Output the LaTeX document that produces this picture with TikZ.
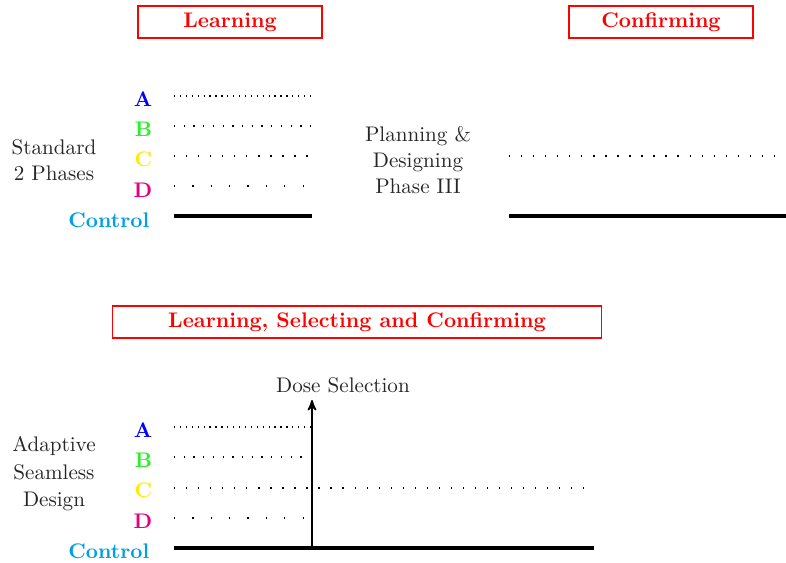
\documentclass[tikz,border=0pt]{standalone}
\usetikzlibrary{arrows, positioning}
\definecolor{armA}{RGB}{0,0,255}
\definecolor{armB}{RGB}{40,240,40}
\definecolor{armC}{RGB}{255,235,0}
\definecolor{armD}{RGB}{230,0,126}
\definecolor{ctrl}{RGB}{0,160,227}
\begin{document}
\begin{tikzpicture}[x=0.01665cm, y=-0.01665cm, >=stealth', semithick]
        \tikzstyle{phase}=[draw=red, thick, text=red, font=\bfseries, minimum width=184*0.01665cm, minimum height=32*0.01665cm, inner sep=0pt]
        \tikzstyle{arm}=[font=\bfseries, anchor=east, inner sep=1pt]
        \tikzstyle{side}=[align=center, text=black!85]
        \tikzstyle{dA}=[dash pattern=on 0.6pt off 2.2pt, line width=0.9pt]
        \tikzstyle{dB}=[dash pattern=on 0.6pt off 4pt, line width=0.9pt]
        \tikzstyle{dC}=[dash pattern=on 0.6pt off 5.1pt, line width=0.9pt]
        \tikzstyle{dD}=[dash pattern=on 0.6pt off 8.1pt, line width=0.9pt]
        \tikzstyle{ctrlline}=[line width=1.5pt]

        \useasboundingbox (0,0) rectangle (786,563);

        % top: standard two phases
        \node[phase]    (learn)   at (230,22) {Learning};
        \node[phase]    (confirm) at (661,22) {Confirming};
        \node[side]     (std)     at (54,160) {Standard\\[0.5pt]2 Phases};
        \node[side]     (plan)    at (418,160) {Planning \&\\[0.5pt]Designing\\[0.5pt]Phase III};

        \node[arm, text=armA]  (A1) at (155,99)  {A};
        \node[arm, text=armB]  (B1) at (155,129) {B};
        \node[arm, text=armC]  (C1) at (155,159) {C};
        \node[arm, text=armD]  (D1) at (155,190) {D};
        \node[arm, text=ctrl]  (K1) at (152,220) {Control};

        \coordinate (a1s) at (174,96);  \coordinate (a1e) at (311,96);
        \coordinate (b1s) at (174,126); \coordinate (b1e) at (314,126);
        \coordinate (c1s) at (174,156); \coordinate (c1e) at (311,156);
        \coordinate (d1s) at (174,186); \coordinate (d1e) at (306,186);
        \coordinate (k1s) at (174,216); \coordinate (k1e) at (312,216);
        \coordinate (c3s) at (509,156); \coordinate (c3e) at (781,156);
        \coordinate (k3s) at (509,216); \coordinate (k3e) at (786,216);

        \draw[dA] (a1s) -- (a1e);
        \draw[dB] (b1s) -- (b1e);
        \draw[dC] (c1s) -- (c1e);
        \draw[dD] (d1s) -- (d1e);
        \draw[ctrlline] (k1s) -- (k1e);
        \draw[dC] (c3s) -- (c3e);
        \draw[ctrlline] (k3s) -- (k3e);

        % bottom: adaptive seamless design
        \node[phase, minimum width=489*0.01665cm] (seam) at (357,322) {Learning, Selecting and Confirming};
        \node[side]     (asd)     at (54,474) {Adaptive\\[1pt]Seamless\\[1pt]Design};

        \node[arm, text=armA]  (A2) at (155,430) {A};
        \node[arm, text=armB]  (B2) at (155,460) {B};
        \node[arm, text=armC]  (C2) at (155,490) {C};
        \node[arm, text=armD]  (D2) at (155,521) {D};
        \node[arm, text=ctrl]  (K2) at (152,551) {Control};

        \coordinate (a2s) at (174,427); \coordinate (a2e) at (312,427);
        \coordinate (b2s) at (174,457); \coordinate (b2e) at (306,457);
        \coordinate (c2s) at (174,488); \coordinate (c2e) at (592,488);
        \coordinate (d2s) at (174,518); \coordinate (d2e) at (306,518);
        \coordinate (k2s) at (174,548); \coordinate (k2e) at (594,548);
        \coordinate (sel)  at (312,548);
        \coordinate (selt) at (312,400);
        \node[text=black!85, inner sep=1pt] (dose) at (343,385) {Dose Selection};

        \draw[dA] (a2s) -- (a2e);
        \draw[dB] (b2s) -- (b2e);
        \draw[dC] (c2s) -- (c2e);
        \draw[dD] (d2s) -- (d2e);
        \draw[ctrlline] (k2s) -- (k2e);
        \draw[->, thick] (sel) -- (selt); % decision point
\end{tikzpicture}
\end{document}
